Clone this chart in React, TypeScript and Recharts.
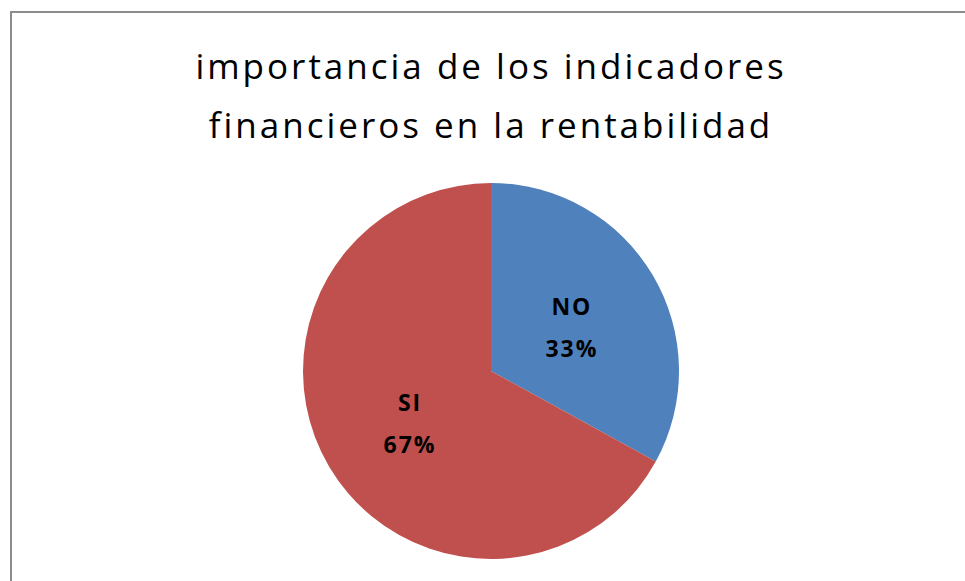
import React from "react";
import { PieChart, Pie, Cell } from "recharts";

const categories = ["NO", "SI"];
const values = [33, 67];
const percentLabels = ["33%", "67%"];
const colors = ["#4F81BD", "#C0504D"];
const titleLines = ["importancia de los indicadores", "financieros en la rentabilidad"];

const data = categories.map((name, i) => ({ name, value: values[i], pct: percentLabels[i] }));

const RADIAN = Math.PI / 180;

const renderLabel = (props: any) => {
  const { cx, cy, midAngle, outerRadius, index } = props;
  const r = outerRadius * 0.5;
  const x = cx + r * Math.cos(-midAngle * RADIAN);
  const y = cy + r * Math.sin(-midAngle * RADIAN);
  const d = data[index];
  return (
    <text
      x={x}
      y={y}
      textAnchor="middle"
      fill="#000"
      fontFamily="'Open Sans', sans-serif"
      fontWeight="bold"
      fontSize={23}
      letterSpacing={2}
    >
      <tspan x={x} dy={-8}>{d.name}</tspan>
      <tspan x={x} dy={42}>{d.pct}</tspan>
    </text>
  );
};

export default function App() {
  return (
    <div style={{ position: "absolute", left: 0, top: 0, width: 965, height: 581, background: "#fff", overflow: "hidden" }}>
      <div
        style={{
          position: "absolute",
          left: 10,
          top: 11,
          width: 1000,
          height: 700,
          border: "2px solid #8c8c8c",
        }}
      />
      <div style={{ position: "absolute", left: 0, top: 0 }}>
        <PieChart width={965} height={581} margin={{ top: 0, right: 0, bottom: 0, left: 0 }}>
          <text x={491} y={79} textAnchor="middle" fontFamily="'Open Sans', sans-serif" fontSize={35} fill="#000" letterSpacing={3}>
            {titleLines[0]}
          </text>
          <text x={491} y={138} textAnchor="middle" fontFamily="'Open Sans', sans-serif" fontSize={35} fill="#000" letterSpacing={3}>
            {titleLines[1]}
          </text>
          <Pie
            data={data}
            dataKey="value"
            nameKey="name"
            cx={491}
            cy={371}
            outerRadius={188}
            startAngle={90}
            endAngle={-270}
            stroke="none"
            label={renderLabel}
            labelLine={false}
            isAnimationActive={false}
          >
            {data.map((d, i) => (
              <Cell key={d.name} fill={colors[i]} />
            ))}
          </Pie>
        </PieChart>
      </div>
    </div>
  );
}
